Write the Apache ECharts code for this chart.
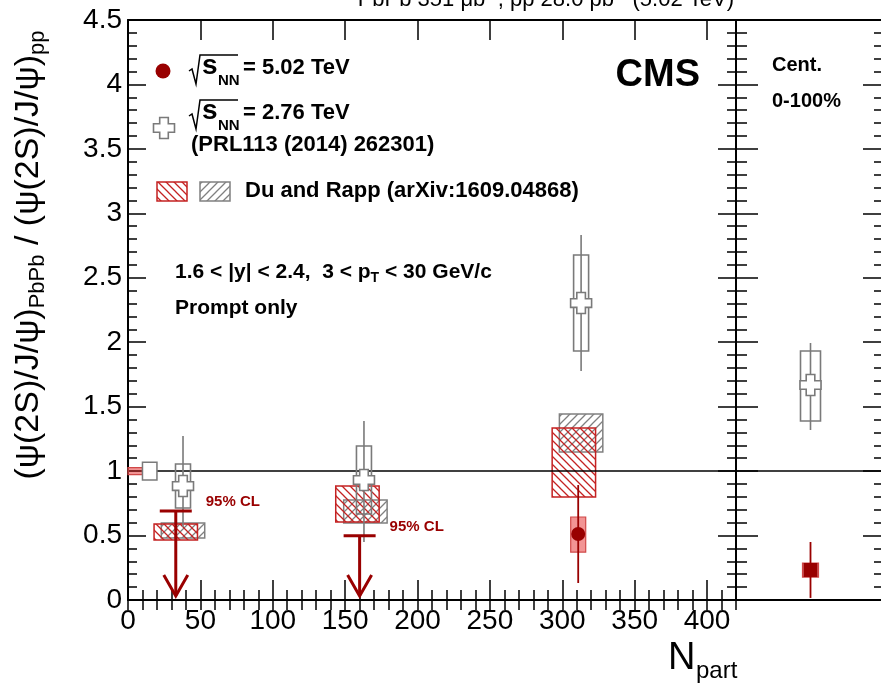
<!DOCTYPE html>
<html><head><meta charset="utf-8">
<script src="https://cdn.jsdelivr.net/npm/echarts@6/dist/echarts.min.js"></script>
<style>html,body{margin:0;padding:0;background:#fff}#c{width:881px;height:683px}</style>
</head><body><div id="c"></div>
<script>
// ---------------- data ----------------
// 5.02 TeV measured point (Npart bins)
const npart502 = [311];
const val502 = [0.512];
const stat502Lo = [0.132];
const stat502Hi = [0.892];
const syst502Lo = [0.372];
const syst502Hi = [0.644];
// 5.02 TeV 95% CL upper limits
const ulNpart = [33, 160];
const ulValue = [0.69, 0.499];
// 2.76 TeV (PRL113 (2014) 262301)
const npart276 = [38, 163, 313];
const val276 = [0.884, 0.931, 2.304];
const stat276Lo = [0.566, 0.45, 1.777];
const stat276Hi = [1.272, 1.389, 2.832];
const syst276Lo = [0.714, 0.667, 1.932];
const syst276Hi = [1.055, 1.195, 2.677];
// Integrated 0-100%
const intCategories = ['0-100%'];
const int502 = [0.233], int502StatLo = [0.016], int502StatHi = [0.45], int502SystLo = [0.178], int502SystHi = [0.287];
const int276 = [1.668], int276StatLo = [1.319], int276StatHi = [1.994], int276SystLo = [1.389], int276SystHi = [1.932];
// Du and Rapp theory bands
const theoryRedNpart = [33, 158.5, 308];
const theoryRedLo = [0.466, 0.605, 0.799];
const theoryRedHi = [0.590, 0.884, 1.334];
const theoryGrayNpart = [38, 164, 313];
const theoryGrayLo = [0.481, 0.597, 1.148];
const theoryGrayHi = [0.597, 0.776, 1.443];
const theoryHalfWidth = 15;
// global uncertainty boxes at unity
const globalNpartLo = [0, 10];
const globalNpartHi = [10, 20];
const globalLo = [0.973, 0.932];
const globalHi = [1.027, 1.068];
// axis ticks
const xMin = 0, xMax = 420, xMajor = 50, xMinor = 10;
const yMin = 0, yMax = 4.5, yMajor = 0.5;

// ---------------- styles ----------------
const FONT = "'Liberation Sans', Arial, Helvetica, sans-serif";
const RED = '#990000';
const PINK_FILL = 'rgba(232,60,60,0.55)';
const PINK_STROKE = '#d04848';
const GRAY = '#7a7a7a';
const TH_RED = '#c42222';
const TH_GRAY = '#808080';

function hatch(color, forward) {
  const c = document.createElement('canvas');
  c.width = 8; c.height = 8;
  const ctx = c.getContext('2d');
  ctx.strokeStyle = color; ctx.lineWidth = 1.3;
  ctx.beginPath();
  if (forward) {
    ctx.moveTo(-1, 9); ctx.lineTo(9, -1);
    ctx.moveTo(-1, 1); ctx.lineTo(1, -1);
    ctx.moveTo(7, 9); ctx.lineTo(9, 7);
  } else {
    ctx.moveTo(-1, -1); ctx.lineTo(9, 9);
    ctx.moveTo(-1, 7); ctx.lineTo(1, 9);
    ctx.moveTo(7, -1); ctx.lineTo(9, 1);
  }
  ctx.stroke();
  return c;
}
const redHatch = {image: hatch(TH_RED, false), repeat: 'repeat'};
const grayHatch = {image: hatch(TH_GRAY, true), repeat: 'repeat'};

function crossPts(cx, cy) {
  const s = 10.5, a = 4.3;
  return [[-a,-s],[a,-s],[a,-a],[s,-a],[s,a],[a,a],[a,s],[-a,s],[-a,a],[-s,a],[-s,-a],[-a,-a]]
    .map(p => [cx + p[0], cy + p[1]]);
}

// ---------------- render functions ----------------
function theoryRender(fill, stroke) {
  return function (params, api) {
    const n = api.value(0), lo = api.value(1), hi = api.value(2);
    const p1 = api.coord([n - theoryHalfWidth, hi]);
    const p2 = api.coord([n + theoryHalfWidth, lo]);
    return {type: 'rect', shape: {x: p1[0], y: p1[1], width: p2[0] - p1[0], height: p2[1] - p1[1]},
      style: {fill: fill, stroke: stroke, lineWidth: 1.5}};
  };
}
function unityRender(params, api) {
  const cs = params.coordSys;
  const y = api.coord([api.value(0), api.value(1)])[1];
  return {type: 'line', shape: {x1: cs.x, y1: y, x2: cs.x + cs.width, y2: y},
    style: {stroke: '#000', lineWidth: 1.5}};
}
function globalRender(params, api) {
  const p1 = api.coord([api.value(0), api.value(3)]);
  const p2 = api.coord([api.value(1), api.value(2)]);
  const isRed = params.dataIndex === 0;
  return {type: 'rect', shape: {x: p1[0], y: p1[1], width: p2[0] - p1[0], height: p2[1] - p1[1]},
    style: isRed ? {fill: PINK_FILL, stroke: PINK_STROKE, lineWidth: 1.2}
                 : {fill: '#fff', stroke: GRAY, lineWidth: 1.5}};
}
function render276(hw) {
  return function (params, api) {
    const x = api.value(0);
    const c = api.coord([x, api.value(1)]);
    const eT = api.coord([x, api.value(3)])[1], eB = api.coord([x, api.value(2)])[1];
    const sT = api.coord([x, api.value(5)])[1], sB = api.coord([x, api.value(4)])[1];
    return {type: 'group', children: [
      {type: 'line', shape: {x1: c[0], y1: eT, x2: c[0], y2: eB}, style: {stroke: GRAY, lineWidth: 1.6}},
      {type: 'rect', shape: {x: c[0] - hw, y: sT, width: 2 * hw, height: sB - sT}, style: {fill: 'none', stroke: GRAY, lineWidth: 1.6}},
      {type: 'polygon', shape: {points: crossPts(c[0], c[1])}, style: {fill: '#fff', stroke: GRAY, lineWidth: 1.6}}
    ]};
  };
}
function render502(hw, square) {
  return function (params, api) {
    const x = api.value(0);
    const c = api.coord([x, api.value(1)]);
    const eT = api.coord([x, api.value(3)])[1], eB = api.coord([x, api.value(2)])[1];
    const sT = api.coord([x, api.value(5)])[1], sB = api.coord([x, api.value(4)])[1];
    const marker = square
      ? {type: 'rect', shape: {x: c[0] - 7, y: c[1] - 7, width: 14, height: 14}, style: {fill: RED}}
      : {type: 'circle', shape: {cx: c[0], cy: c[1], r: 7}, style: {fill: RED}};
    return {type: 'group', children: [
      {type: 'rect', shape: {x: c[0] - hw, y: sT, width: 2 * hw, height: sB - sT}, style: {fill: PINK_FILL, stroke: PINK_STROKE, lineWidth: 1.2}},
      {type: 'line', shape: {x1: c[0], y1: eT, x2: c[0], y2: eB}, style: {stroke: RED, lineWidth: 1.8}},
      marker
    ]};
  };
}
function ulRender(params, api) {
  const x = api.value(0);
  const p = api.coord([x, api.value(1)]);
  const tip = api.coord([x, 0])[1] - 4;
  return {type: 'group', children: [
    {type: 'line', shape: {x1: p[0] - 16, y1: p[1], x2: p[0] + 16, y2: p[1]}, style: {stroke: RED, lineWidth: 3}},
    {type: 'line', shape: {x1: p[0], y1: p[1], x2: p[0], y2: tip}, style: {stroke: RED, lineWidth: 3}},
    {type: 'polyline', shape: {points: [[p[0] - 12, tip - 21], [p[0], tip], [p[0] + 12, tip - 21]]}, style: {stroke: RED, lineWidth: 3, fill: 'none'}},
    {type: 'text', x: p[0] + 30, y: p[1] - 9, style: {text: '95% CL', fill: RED, fontSize: 15, fontWeight: 'bold', fontFamily: FONT, align: 'left', verticalAlign: 'middle'}}
  ]};
}

// ---------------- axes ----------------
const tickStyle = {color: '#000', width: 1.5};
function xAx(grid, pos, interval, len, opts) {
  return Object.assign({
    type: 'value', gridIndex: grid, position: pos, min: xMin, max: xMax, interval: interval,
    axisLine: {show: false}, axisTick: {show: true, inside: true, length: len, lineStyle: tickStyle},
    axisLabel: {show: false}, splitLine: {show: false}
  }, opts || {});
}
function yAx(grid, pos, majLen, minLen, labels) {
  return {
    type: 'value', gridIndex: grid, position: pos, min: yMin, max: yMax, interval: yMajor,
    axisLine: {show: true, onZero: false, lineStyle: {color: '#000', width: 2}},
    axisTick: {show: true, inside: true, length: majLen, lineStyle: tickStyle},
    minorTick: {show: true, splitNumber: 5, length: minLen, lineStyle: tickStyle},
    axisLabel: labels ? {show: true, fontSize: 28, color: '#000', fontFamily: FONT, margin: 6} : {show: false},
    splitLine: {show: false}, minorSplitLine: {show: false}
  };
}

const option = {
  animation: false,
  backgroundColor: '#fff',
  grid: [
    {left: 128, top: 20, width: 608, height: 580, containLabel: false, outerBoundsMode: 'none'},
    {left: 736, top: 20, width: 149, height: 580, containLabel: false, outerBoundsMode: 'none'}
  ],
  xAxis: [
    xAx(0, 'bottom', xMajor, 20, {
      axisLine: {show: true, onZero: false, lineStyle: {color: '#000', width: 2}},
      axisLabel: {show: true, fontSize: 28, color: '#000', fontFamily: FONT, margin: 7, showMaxLabel: false}
    }),
    xAx(0, 'bottom', xMinor, 10),
    xAx(0, 'top', xMajor, 20, {axisLine: {show: true, onZero: false, lineStyle: {color: '#000', width: 2}}}),
    xAx(0, 'top', xMinor, 10),
    {type: 'category', gridIndex: 1, position: 'bottom', data: intCategories,
      axisLine: {show: true, onZero: false, lineStyle: {color: '#000', width: 2}}, axisTick: {show: false}, axisLabel: {show: false}},
    {type: 'category', gridIndex: 1, position: 'top', data: intCategories,
      axisLine: {show: true, onZero: false, lineStyle: {color: '#000', width: 2}}, axisTick: {show: false}, axisLabel: {show: false}}
  ],
  yAxis: [
    yAx(0, 'left', 18, 9, true),
    yAx(0, 'right', 18, 9, false),
    yAx(1, 'left', 22, 11, false),
    yAx(1, 'right', 22, 11, false)
  ],
  series: [
    {type: 'custom', xAxisIndex: 0, yAxisIndex: 0, renderItem: theoryRender(grayHatch, TH_GRAY),
      data: theoryGrayNpart.map((n, i) => [n, theoryGrayLo[i], theoryGrayHi[i]])},
    {type: 'custom', xAxisIndex: 0, yAxisIndex: 0, renderItem: theoryRender(redHatch, TH_RED),
      data: theoryRedNpart.map((n, i) => [n, theoryRedLo[i], theoryRedHi[i]])},
    {type: 'custom', xAxisIndex: 0, yAxisIndex: 0, renderItem: unityRender, data: [[xMin, 1]]},
    {type: 'custom', xAxisIndex: 0, yAxisIndex: 0, renderItem: globalRender,
      data: globalNpartLo.map((n, i) => [n, globalNpartHi[i], globalLo[i], globalHi[i]])},
    {type: 'custom', xAxisIndex: 0, yAxisIndex: 0, renderItem: render276(7.5),
      data: npart276.map((n, i) => [n, val276[i], stat276Lo[i], stat276Hi[i], syst276Lo[i], syst276Hi[i]])},
    {type: 'custom', xAxisIndex: 0, yAxisIndex: 0, renderItem: render502(7.5, false),
      data: npart502.map((n, i) => [n, val502[i], stat502Lo[i], stat502Hi[i], syst502Lo[i], syst502Hi[i]])},
    {type: 'custom', xAxisIndex: 0, yAxisIndex: 0, renderItem: ulRender,
      data: ulNpart.map((n, i) => [n, ulValue[i]])},
    {type: 'custom', xAxisIndex: 4, yAxisIndex: 2, renderItem: unityRender, data: [[0, 1]]},
    {type: 'custom', xAxisIndex: 4, yAxisIndex: 2, renderItem: render276(10),
      data: intCategories.map((c, i) => [i, int276[i], int276StatLo[i], int276StatHi[i], int276SystLo[i], int276SystHi[i]])},
    {type: 'custom', xAxisIndex: 4, yAxisIndex: 2, renderItem: render502(8, true),
      data: intCategories.map((c, i) => [i, int502[i], int502StatLo[i], int502StatHi[i], int502SystLo[i], int502SystHi[i]])}
  ],
  graphic: []
};

function txt(x, y, text, size, opts) {
  return {type: 'text', x: x, y: y, z: 10, style: Object.assign({
    text: text, fontSize: size, fontFamily: FONT, fontWeight: 'bold', fill: '#000',
    align: 'left', verticalAlign: 'middle'}, opts || {})};
}
function radical(x, yTop) {
  return {type: 'polyline', z: 10, shape: {points: [[x, yTop + 16], [x + 3, yTop + 14], [x + 7, yTop + 29], [x + 11, yTop], [x + 49, yTop]]},
    style: {stroke: '#000', lineWidth: 1.5, fill: 'none'}};
}
const G = option.graphic;
// top title (cut by the page edge)
G.push({type: 'text', x: 734, y: 13, z: 10, style: {
  text: '{m|PbPb 351 μb}{s|-1}{m|, pp 28.0 pb}{s|-1}{m| (5.02 TeV)}', align: 'right', verticalAlign: 'bottom',
  rich: {m: {fontSize: 22, lineHeight: 26, fontFamily: FONT, fill: '#000', color: '#000'},
         s: {fontSize: 14, lineHeight: 14, verticalAlign: 'top', fontFamily: FONT, fill: '#000', color: '#000'}}}});
// y axis title
G.push({type: 'text', x: 29, y: 255, rotation: Math.PI / 2, z: 10, style: {
  text: '{m|(ψ(2S)/J/ψ)}{s|PbPb}{m| / (ψ(2S)/J/ψ)}{s|pp}', align: 'center', verticalAlign: 'middle',
  rich: {m: {fontSize: 34, lineHeight: 40, fontFamily: FONT, fill: '#000', color: '#000'},
         s: {fontSize: 22, lineHeight: 16, verticalAlign: 'bottom', fontFamily: FONT, fill: '#000', color: '#000'}}}});
// x axis title
G.push(txt(668, 659, 'N', 38, {fontWeight: 'normal'}));
G.push(txt(696, 671, 'part', 24, {fontWeight: 'normal'}));
// legend
G.push({type: 'circle', z: 10, shape: {cx: 163, cy: 71, r: 7.5}, style: {fill: RED}});
G.push(radical(189, 55));
G.push(txt(202, 66, 's', 28));
G.push(txt(218, 81, 'NN', 15));
G.push(txt(243, 68.3, '= 5.02 TeV', 22));
G.push({type: 'polygon', z: 10, shape: {points: crossPts(164, 128)}, style: {fill: '#fff', stroke: GRAY, lineWidth: 1.6}});
G.push(radical(189, 100));
G.push(txt(202, 111, 's', 28));
G.push(txt(218, 126, 'NN', 15));
G.push(txt(243, 113.3, '= 2.76 TeV', 22));
G.push(txt(191, 145.3, '(PRL113 (2014) 262301)', 22));
G.push({type: 'rect', z: 10, shape: {x: 157, y: 182, width: 30, height: 19}, style: {fill: redHatch, stroke: TH_RED, lineWidth: 1.5}});
G.push({type: 'rect', z: 10, shape: {x: 200, y: 182, width: 30, height: 19}, style: {fill: grayHatch, stroke: TH_GRAY, lineWidth: 1.5}});
G.push(txt(245, 191.3, 'Du and Rapp (arXiv:1609.04868)', 22));
// labels
G.push(txt(700, 75.8, 'CMS', 38, {align: 'right'}));
G.push(txt(772, 65, 'Cent.', 20));
G.push(txt(772, 101, '0-100%', 20));
G.push({type: 'text', x: 175, y: 272.6, z: 10, style: {
  text: '{m|1.6 < |y| < 2.4,  3 < p}{s|T}{m| < 30 GeV/c}', align: 'left', verticalAlign: 'middle',
  rich: {m: {fontSize: 21, lineHeight: 26, fontWeight: 'bold', fontFamily: FONT, fill: '#000', color: '#000'},
         s: {fontSize: 14, lineHeight: 10, verticalAlign: 'bottom', fontWeight: 'bold', fontFamily: FONT, fill: '#000', color: '#000'}}}});
G.push(txt(175, 308.6, 'Prompt only', 21));

const chart = echarts.init(document.getElementById('c'), null, {renderer: 'canvas'});
chart.setOption(option);
</script></body></html>
